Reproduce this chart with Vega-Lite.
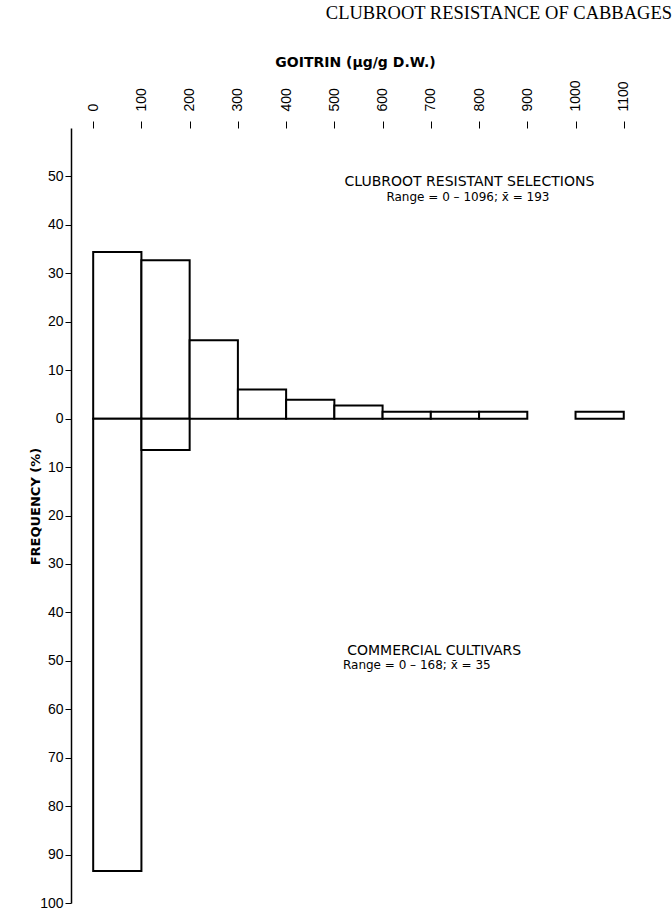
{
  "$schema": "https://vega.github.io/schema/vega-lite/v6.json",
  "width": 601,
  "height": 775,
  "autosize": {"type": "none"},
  "padding": {"left": 71, "top": 128, "right": 0, "bottom": 8},
  "background": "white",
  "config": {"view": {"stroke": null}, "axis": {"grid": false}},
  "title": {
    "text": "CLUBROOT RESISTANCE OF CABBAGES",
    "anchor": "end",
    "frame": "group",
    "font": "Liberation Serif",
    "fontSize": 18.5,
    "fontWeight": "normal",
    "color": "black",
    "offset": 33
  },
  "datasets": {
    "bars": [
      {"group": "Clubroot resistant selections", "lo": 0, "hi": 100, "freq": 34.4},
      {"group": "Clubroot resistant selections", "lo": 100, "hi": 200, "freq": 32.7},
      {"group": "Clubroot resistant selections", "lo": 200, "hi": 300, "freq": 16.2},
      {"group": "Clubroot resistant selections", "lo": 300, "hi": 400, "freq": 6.0},
      {"group": "Clubroot resistant selections", "lo": 400, "hi": 500, "freq": 3.9},
      {"group": "Clubroot resistant selections", "lo": 500, "hi": 600, "freq": 2.7},
      {"group": "Clubroot resistant selections", "lo": 600, "hi": 700, "freq": 1.4},
      {"group": "Clubroot resistant selections", "lo": 700, "hi": 800, "freq": 1.4},
      {"group": "Clubroot resistant selections", "lo": 800, "hi": 900, "freq": 1.4},
      {"group": "Clubroot resistant selections", "lo": 1000, "hi": 1100, "freq": 1.4},
      {"group": "Commercial cultivars", "lo": 0, "hi": 100, "freq": -93.4},
      {"group": "Commercial cultivars", "lo": 100, "hi": 200, "freq": -6.5}
    ],
    "notes": [
      {"label": "CLUBROOT RESISTANT SELECTIONS", "x": 780, "y": 48.1, "kind": "head"},
      {"label": "Range = 0 – 1096; x̄ = 193", "x": 777, "y": 44.9, "kind": "range"},
      {"label": "COMMERCIAL CULTIVARS", "x": 707, "y": -48.8, "kind": "head"},
      {"label": "Range = 0 – 168; x̄ = 35", "x": 671, "y": -51.7, "kind": "range"}
    ]
  },
  "layer": [
    {
      "data": {"name": "bars"},
      "mark": {"type": "bar", "fill": "white", "stroke": "black", "strokeWidth": 2},
      "encoding": {
        "x": {
          "field": "lo",
          "type": "quantitative",
          "scale": {"domain": [-46, 1200], "nice": false, "zero": false},
          "axis": {
            "orient": "top",
            "values": [0, 100, 200, 300, 400, 500, 600, 700, 800, 900, 1000, 1100],
            "format": "d",
            "domain": false,
            "labelAngle": -90,
            "labelAlign": "left",
            "labelBaseline": "middle",
            "labelPadding": 10,
            "labelFont": "Liberation Sans",
            "labelFontSize": 14,
            "labelColor": "black",
            "labelFlush": false,
            "labelOverlap": false,
            "tickSize": 7,
            "tickColor": "black",
            "tickWidth": 1,
            "title": "GOITRIN (μg/g D.W.)",
            "titleFont": "DejaVu Sans",
            "titleFontSize": 14,
            "titleFontWeight": "bold",
            "titleColor": "black",
            "titleX": 284,
            "titleY": -62,
            "titleAlign": "center",
            "titleBaseline": "alphabetic"
          }
        },
        "x2": {"field": "hi"},
        "y": {
          "field": "freq",
          "type": "quantitative",
          "scale": {"domain": [-100, 60], "nice": false, "zero": false},
          "axis": {
            "orient": "left",
            "values": [-100, -90, -80, -70, -60, -50, -40, -30, -20, -10, 0, 10, 20, 30, 40, 50],
            "labelExpr": "abs(datum.value)",
            "labelFont": "Liberation Sans",
            "labelFontSize": 14,
            "labelColor": "black",
            "labelPadding": 2,
            "labelFlush": false,
            "labelOverlap": false,
            "tickSize": 6,
            "tickColor": "black",
            "tickWidth": 1,
            "domain": true,
            "domainColor": "black",
            "domainWidth": 1.5,
            "title": "FREQUENCY (%)",
            "titleFont": "DejaVu Sans",
            "titleFontSize": 13,
            "titleFontWeight": "bold",
            "titleColor": "black",
            "titleAngle": 270,
            "titleBaseline": "bottom",
            "titleAlign": "center",
            "titleX": -29,
            "titleY": 378
          }
        },
        "y2": {"datum": 0}
      }
    },
    {
      "mark": {"type": "rule", "color": "black", "strokeWidth": 1.2},
      "encoding": {"y": {"datum": 0, "type": "quantitative"}}
    },
    {
      "mark": {"type": "rule", "color": "black", "strokeWidth": 1.2},
      "encoding": {
        "x": {"datum": 0, "type": "quantitative"},
        "x2": {"datum": 1200},
        "y": {"datum": 60, "type": "quantitative"}
      }
    },
    {
      "data": {"name": "notes"},
      "transform": [{"filter": "datum.kind === 'head'"}],
      "mark": {"type": "text", "font": "DejaVu Sans", "fontSize": 14, "color": "black", "align": "center", "baseline": "alphabetic"},
      "encoding": {
        "x": {"field": "x", "type": "quantitative"},
        "y": {"field": "y", "type": "quantitative"},
        "text": {"field": "label"}
      }
    },
    {
      "data": {"name": "notes"},
      "transform": [{"filter": "datum.kind === 'range'"}],
      "mark": {"type": "text", "font": "DejaVu Sans", "fontSize": 12, "color": "black", "align": "center", "baseline": "alphabetic"},
      "encoding": {
        "x": {"field": "x", "type": "quantitative"},
        "y": {"field": "y", "type": "quantitative"},
        "text": {"field": "label"}
      }
    }
  ]
}
